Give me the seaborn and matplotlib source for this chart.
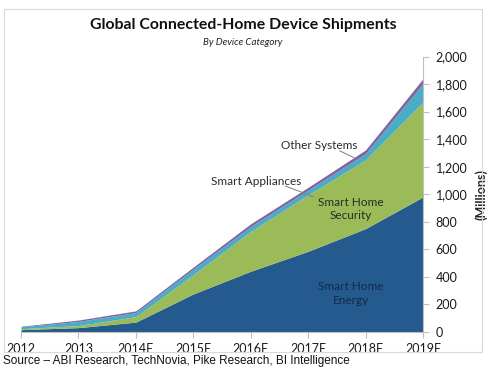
import numpy as np
import pandas as pd
import matplotlib
matplotlib.use("Agg")
import matplotlib.pyplot as plt
from matplotlib.patches import Rectangle
import seaborn as sns

# Data (millions of units)
years = ['2012', '2013', '2014E', '2015E', '2016E', '2017E', '2018E', '2019E']
energy = [15, 30, 70, 275, 440, 585, 750, 980]
security = [7, 15, 40, 140, 290, 410, 500, 690]
appliances = [14, 30, 30, 40, 35, 35, 45, 135]
other = [4, 10, 12, 15, 20, 20, 27, 35]
y_ticks = [0, 200, 400, 600, 800, 1000, 1200, 1400, 1600, 1800, 2000]

sns.set_theme(style="white")
plt.rcParams['font.family'] = ['Lato', 'DejaVu Sans']

palette = sns.color_palette(['#255A8E', '#9BBB59', '#4BACC6', '#8064A2'])

df = pd.DataFrame({'Smart Home Energy': energy, 'Smart Home Security': security,
                   'Smart Appliances': appliances, 'Other Systems': other}, index=years)

fig = plt.figure(figsize=(4.97, 3.80), dpi=100)
ax = fig.add_axes([0.0423, 0.127, 0.8088, 0.724])

x = np.arange(len(years))
ax.stackplot(x, df.T.values, colors=palette, linewidth=0)

ax.set_xlim(0, len(years) - 1)
ax.set_ylim(0, 2000)
ax.set_xticks(x)
ax.set_xticklabels(years, fontsize=9, color='#1A1A1A')
ax.set_yticks(y_ticks)
ax.set_yticklabels([f'{v:,}' for v in y_ticks], fontsize=9, color='#1A1A1A')

ax.yaxis.tick_right()
ax.yaxis.set_label_position('right')
sns.despine(ax=ax, left=True, top=True, right=False, bottom=False)
for s in ['right', 'bottom']:
    ax.spines[s].set_color('#BFBFBF')
    ax.spines[s].set_linewidth(0.8)
ax.tick_params(axis='y', which='both', right=True, direction='out', length=4,
               width=0.8, color='#BFBFBF', pad=5)
ax.tick_params(axis='x', which='both', bottom=True, direction='out', length=4,
               width=0.8, color='#BFBFBF', pad=4)
ax.set_ylabel('(Millions)', fontsize=9, fontweight='bold', rotation=90, labelpad=5)
ax.grid(False)

# Series labels
ax.text(5.75, 277, 'Smart Home\nEnergy', ha='center', va='center', fontsize=8.5,
        color='#14284B', linespacing=1.3)
ax.text(5.75, 893, 'Smart Home\nSecurity', ha='center', va='center', fontsize=8.5,
        color='#2A2A2A', linespacing=1.3)
ax.text(4.1, 1090, 'Smart Appliances', ha='center', va='center', fontsize=8.5, color='#2A2A2A')
ax.plot([4.6, 5.1], [1060, 980], color='#7F7F7F', lw=0.7)
ax.text(5.2, 1355, 'Other Systems', ha='center', va='center', fontsize=8.5, color='#2A2A2A')
ax.plot([5.55, 5.8], [1315, 1265], color='#7F7F7F', lw=0.7)

# Titles
fig.text(0.489, 0.934, 'Global Connected-Home Device Shipments', ha='center', va='center',
         fontsize=11.4, fontweight='bold', color='#111111')
fig.text(0.489, 0.889, 'By Device Category', ha='center', va='center',
         fontsize=7, style='italic', color='#222222')

# Chart border
fig.patches.append(Rectangle((0.008, 0.074), 0.962, 0.903, transform=fig.transFigure,
                             fill=False, edgecolor='#D9D9D9', linewidth=0.8))

fig.text(0.006, 0.05, 'Source \u2013 ABI Research, TechNovia, Pike Research, BI Intelligence',
         ha='left', va='center', fontsize=8.5, color='#111111', family=['Liberation Sans'])

fig.savefig('out.png', dpi=100)
